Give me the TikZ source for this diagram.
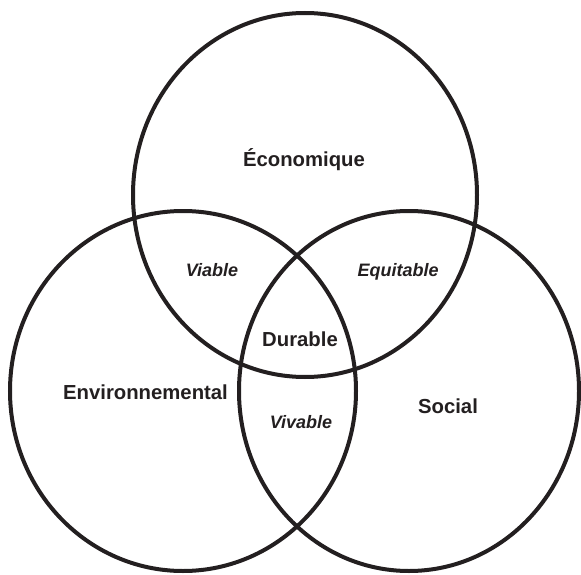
\documentclass[tikz,border=0pt]{standalone}
\usepackage{fontspec}
\setmainfont{Liberation Sans}
\definecolor{ink}{HTML}{231F20}
\begin{document}
\begin{tikzpicture}[x=1pt,y=-1pt,
  ring/.style={draw=ink,line width=4pt},
  lab/.style={text=ink,font=\fontsize{20.3}{24}\selectfont\bfseries,inner sep=0pt,anchor=base},
  ilab/.style={text=ink,font=\fontsize{18}{22}\selectfont\bfseries\itshape,inner sep=0pt,anchor=base}]
\useasboundingbox (0,0) rectangle (581,575);
\draw[ring] (305,195) ellipse [x radius=172, y radius=182];
\draw[ring] (183,391) ellipse [x radius=173, y radius=180];
\draw[ring] (409,391) ellipse [x radius=170, y radius=180];
\node[lab] (eco) at (304,166.5) {Économique};
\node[lab] (env) at (145.5,399) {Environnemental};
\node[lab] (soc) at (448,413) {Social};
\node[lab] (dur) at (300,346) {Durable};
\node[ilab] (viv) at (301,428) {Vivable};
\node[ilab] (via) at (212,276) {Viable};
\node[ilab] (equ) at (398,276) {Equitable};
\end{tikzpicture}
\end{document}
